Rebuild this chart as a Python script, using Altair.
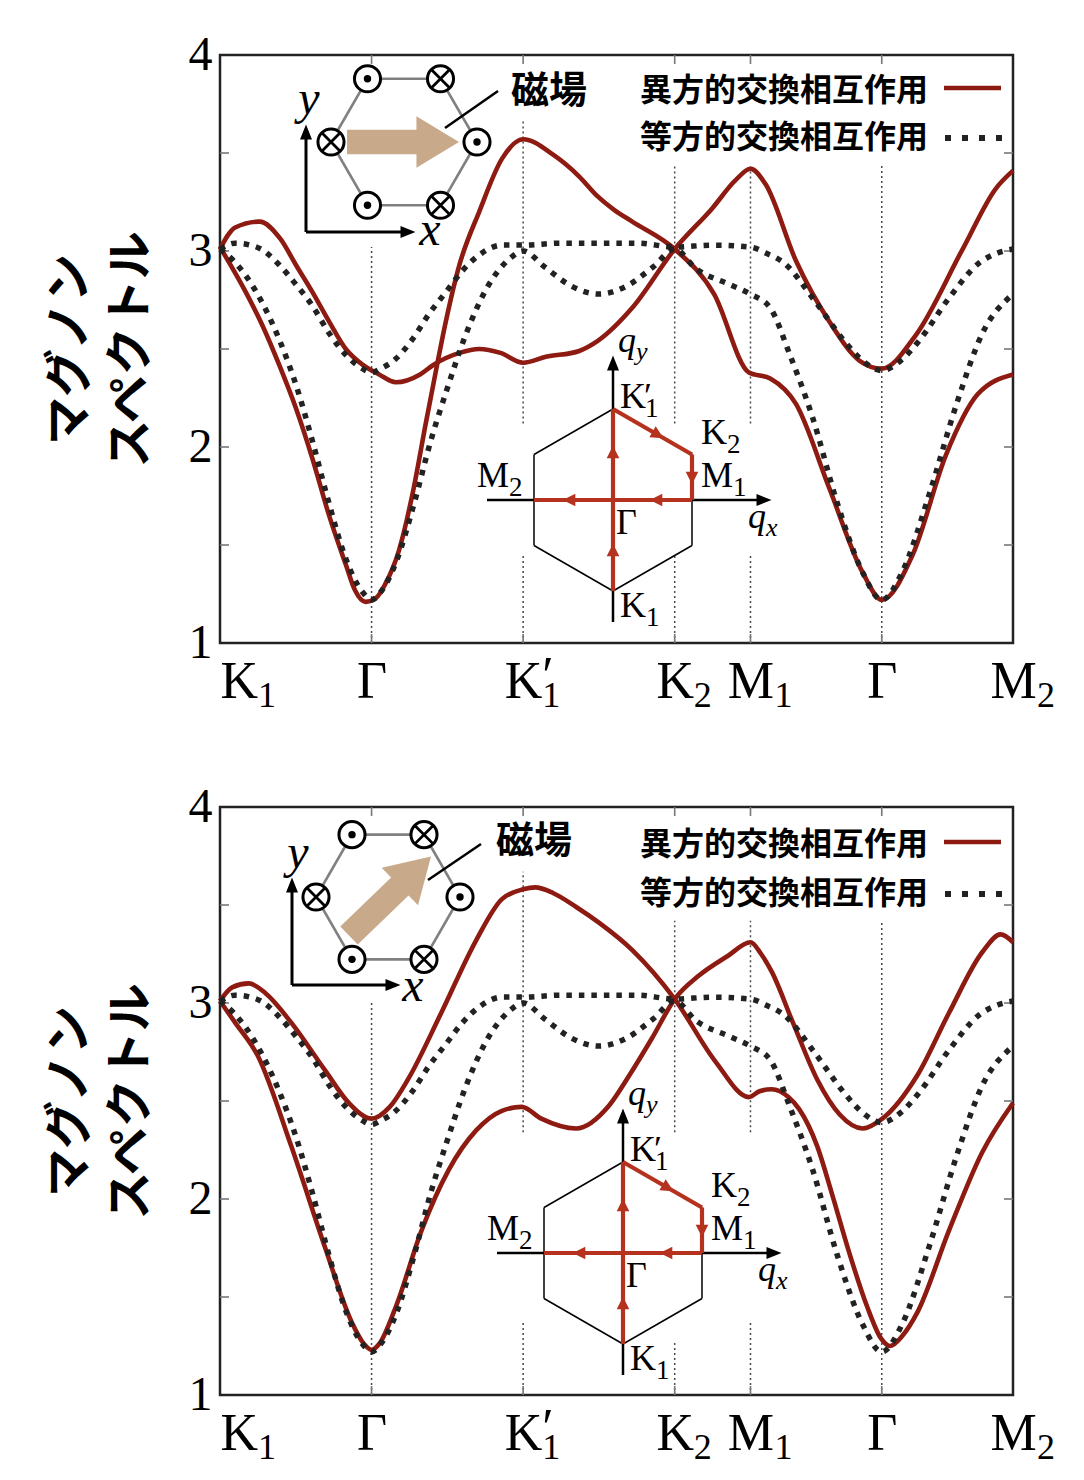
import altair as alt
import pandas as pd
import math

# ---------------- data ----------------
XMAX = 5.232
W, H = 793, 588
SX = W / XMAX
SY = H / 3.0

SYM_X = [0.0, 1.0, 2.0, 3.0, 3.5, 4.366, 5.232]
SYM_MAIN = ["K", "Γ", "K", "K", "M", "Γ", "M"]
SYM_SUB = ["1", "", "1", "2", "1", "", "2"]
SYM_PRIME = ["", "", "′", "", "", "", ""]
Y_TICKS = [1, 2, 3, 4]
Y_MINOR = [1.5, 2.0, 2.5, 3.0, 3.5]

# isotropic exchange (dotted) - same in both panels
ISO1_X = [0.0, 0.1, 0.2, 0.27, 0.39, 0.5, 0.61, 0.72, 0.83, 0.94, 1.0, 1.06, 1.16, 1.27, 1.38, 1.49, 1.6, 1.71,
          1.86, 2.0, 2.25, 2.5, 2.75, 3.0, 3.25, 3.5, 3.6, 3.72, 3.92, 4.12, 4.24, 4.366, 4.49, 4.61, 4.81, 5.01,
          5.13, 5.232]
ISO1_Y = [3.01, 3.04, 3.03, 3.01, 2.93, 2.83, 2.72, 2.58, 2.47, 2.40, 2.38, 2.40, 2.45, 2.55, 2.68, 2.79, 2.90, 2.98,
          3.03, 3.03, 3.04, 3.04, 3.04, 3.02, 3.03, 3.02, 2.99, 2.94, 2.75, 2.54, 2.44, 2.39, 2.44, 2.54, 2.76, 2.94,
          2.99, 3.01]
ISO2_X = [0.0, 0.09, 0.24, 0.39, 0.5, 0.61, 0.72, 0.83, 0.94, 1.0, 1.06, 1.17, 1.28, 1.39, 1.5, 1.61, 1.76, 1.91,
          2.0, 2.14, 2.32, 2.5, 2.68, 2.86, 3.0, 3.14, 3.36, 3.5, 3.63, 3.76, 3.91, 4.07, 4.24, 4.366, 4.5, 4.68,
          4.86, 5.03, 5.232]
ISO2_Y = [3.01, 2.95, 2.79, 2.55, 2.32, 2.03, 1.71, 1.43, 1.26, 1.22, 1.26, 1.43, 1.71, 2.03, 2.30, 2.55, 2.81, 2.96,
          3.0, 2.92, 2.82, 2.78, 2.82, 2.92, 3.01, 2.91, 2.83, 2.78, 2.71, 2.47, 2.15, 1.72, 1.36, 1.22, 1.36, 1.76,
          2.22, 2.58, 2.78]

# anisotropic exchange (solid), field along x (top panel)
TOP_A_X = [0.0, 0.1, 0.26, 0.4, 0.5, 0.61, 0.72, 0.83, 0.94, 1.05, 1.16, 1.32, 1.41, 1.58, 1.71, 1.85, 2.0, 2.15,
           2.37, 2.49, 2.72, 3.0, 3.25, 3.4, 3.5, 3.6, 3.8, 4.02, 4.22, 4.366, 4.59, 4.9, 5.12, 5.232]
TOP_A_Y = [3.01, 3.12, 3.15, 3.06, 2.93, 2.79, 2.64, 2.50, 2.42, 2.37, 2.33, 2.37, 2.42, 2.48, 2.50, 2.48, 2.43, 2.46,
           2.49, 2.54, 2.71, 3.01, 3.22, 3.36, 3.42, 3.34, 2.95, 2.64, 2.44, 2.40, 2.57, 3.01, 3.32, 3.41]
TOP_B_X = [0.0, 0.17, 0.28, 0.39, 0.5, 0.61, 0.72, 0.83, 0.89, 0.96, 1.03, 1.09, 1.18, 1.27, 1.36, 1.41, 1.49, 1.58,
           1.71, 1.86, 2.0, 2.2, 2.37, 2.49, 2.6, 2.72, 3.0, 3.26, 3.49, 3.63, 3.8, 4.02, 4.24, 4.366, 4.57, 4.79,
           5.0, 5.232]
TOP_B_Y = [3.02, 2.79, 2.62, 2.42, 2.20, 1.94, 1.65, 1.40, 1.27, 1.21, 1.23, 1.30, 1.47, 1.76, 2.13, 2.33, 2.64, 2.93,
           3.20, 3.47, 3.57, 3.49, 3.38, 3.28, 3.21, 3.15, 3.01, 2.78, 2.38, 2.35, 2.22, 1.79, 1.36, 1.22, 1.45, 1.96,
           2.27, 2.37]

# anisotropic exchange (solid), field along the diagonal (bottom panel)
BOT_P_X = [0.0, 0.08, 0.19, 0.3, 0.47, 0.69, 0.85, 1.0, 1.12, 1.24, 1.46, 1.69, 1.86, 2.0, 2.08, 2.2, 2.35, 2.5,
           2.72, 3.0, 3.27, 3.49, 3.56, 3.64, 3.75, 3.82, 3.94, 4.04, 4.15, 4.27, 4.36, 4.42, 4.5, 4.6, 4.81, 5.03,
           5.232]
BOT_P_Y = [3.01, 3.08, 3.10, 3.05, 2.90, 2.66, 2.49, 2.41, 2.47, 2.61, 2.95, 3.32, 3.53, 3.58, 3.59, 3.56, 3.49, 3.41,
           3.27, 3.02, 2.70, 2.52, 2.55, 2.56, 2.52, 2.46, 2.27, 2.02, 1.73, 1.45, 1.29, 1.25, 1.30, 1.42, 1.84, 2.24,
           2.49]
BOT_Q_X = [0.0, 0.1, 0.25, 0.47, 0.69, 0.87, 0.95, 1.0, 1.05, 1.16, 1.33, 1.51, 1.69, 1.86, 1.99, 2.12, 2.35, 2.57,
           2.7, 2.85, 3.0, 3.16, 3.35, 3.5, 3.57, 3.64, 3.78, 3.94, 4.09, 4.24, 4.37, 4.6, 4.81, 5.03, 5.15, 5.232]
BOT_Q_Y = [3.01, 2.90, 2.73, 2.27, 1.76, 1.37, 1.26, 1.23, 1.26, 1.45, 1.84, 2.15, 2.35, 2.45, 2.47, 2.41, 2.36, 2.48,
           2.63, 2.82, 3.02, 3.14, 3.24, 3.31, 3.25, 3.16, 2.90, 2.61, 2.43, 2.36, 2.41, 2.63, 2.95, 3.26, 3.35, 3.31]

# visible pieces of the dotted lines at high-symmetry points: (x, y_from, y_to)
TOP_VSEG = [(1.0, 1.0, 3.02), (2.0, 1.0, 1.45), (2.0, 2.12, 3.67), (3.0, 1.0, 1.45), (3.0, 2.12, 3.44),
            (3.5, 1.0, 1.45), (3.5, 2.12, 3.44), (4.366, 1.0, 3.44)]
BOT_VSEG = [(1.0, 1.0, 3.0), (2.0, 1.0, 1.37), (2.0, 2.34, 3.67), (3.0, 1.0, 1.27), (3.0, 2.34, 3.42),
            (3.5, 1.0, 1.37), (3.5, 2.34, 3.42), (4.366, 1.0, 3.42)]

LEGEND_TEXT = ["異方的交換相互作用", "等方的交換相互作用"]
FIELD_TEXT = "磁場"
Y_TITLE = ["マグノン", "スペクトル"]

RED_CURVE = "#8E1B12"
RED_PATH = "#B5321E"
TAN = "#C8AA8B"
SERIF = "Liberation Serif"
CJK = "Noto Sans CJK JP"

ARROW = "M-1,-0.22L0.24,-0.22L0.24,-0.46L1,0L0.24,0.46L0.24,0.22L-1,0.22Z"
TRI = "M1,0L-1,-0.8L-1,0.8Z"
TRI_RED = "M1,0L-1,-1L-1,1Z"
CROSS = "M-1,-1L1,1M-1,1L1,-1"


def X(px):
    return px / SX


def Y(py):
    return 4.0 - py / SY


# ---------------- scales / axes ----------------
xs = alt.Scale(domain=[0, XMAX], nice=False, zero=False)
ys = alt.Scale(domain=[1, 4], nice=False, zero=False)

expr = "'%s'" % SYM_MAIN[-1]
for i in reversed(range(len(SYM_X) - 1)):
    mid = (SYM_X[i] + SYM_X[i + 1]) / 2
    expr = "datum.value < %g ? '%s' : (%s)" % (mid, SYM_MAIN[i], expr)

xaxis = alt.Axis(values=SYM_X, labelExpr=expr, labelFont=SERIF, labelFontSize=52, labelColor="black",
                 labelBaseline="alphabetic", labelPadding=54, labelFlush=False, labelOverlap=False,
                 labelBound=False,
                 labelAlign={"condition": {"test": "datum.value < 0.5", "value": "left"}, "value": "center"},
                 ticks=False, domain=False, grid=False, title=None)
yaxis = alt.Axis(values=Y_TICKS, format="d", labelFont=SERIF, labelFontSize=48, labelColor="black",
                 labelPadding=8, ticks=False, domain=False, grid=False, title=Y_TITLE,
                 titleFont=CJK, titleFontWeight="bold", titleFontSize=48, titleColor="black",
                 titleLineHeight=61, titlePadding=33)


def xe(f="x"):
    return alt.X(f + ":Q", scale=xs, axis=xaxis)


def ye(f="y"):
    return alt.Y(f + ":Q", scale=ys, axis=yaxis)


def pt_df(rows, cx, cy, cols=()):
    recs = []
    for r in rows:
        d = {"x": X(cx + r[0]), "y": Y(cy + r[1])}
        for k, v in zip(cols, r[2:]):
            d[k] = v
        recs.append(d)
    return pd.DataFrame(recs)


def seg_df(rows, cx, cy):
    return pd.DataFrame([{"x": X(cx + a), "y": Y(cy + b), "x2": X(cx + c), "y2": Y(cy + d)}
                         for a, b, c, d in rows])


def seg_layer(rows, cx, cy, color, width, dash=None):
    kw = dict(color=color, strokeWidth=width)
    if dash:
        kw["strokeDash"] = dash
    return alt.Chart(seg_df(rows, cx, cy)).mark_rule(**kw).encode(
        x=xe(), y=ye(), x2=alt.X2("x2:Q"), y2=alt.Y2("y2:Q"))


def text_layer(rows, cx, cy, size, font=SERIF, style="normal", weight="normal", align="left",
               baseline="alphabetic", color="black"):
    df = pt_df(rows, cx, cy, cols=("t",))
    return alt.Chart(df).mark_text(font=font, fontSize=size, fontStyle=style, fontWeight=weight,
                                   align=align, baseline=baseline, color=color).encode(
        x=xe(), y=ye(), text="t:N")


def sym_layer(rows, cx, cy, shape, size, fill=None, stroke=None, sw=0, angle_field=False, angle=0):
    cols = ("ang",) if angle_field else ()
    df = pt_df(rows, cx, cy, cols=cols)
    kw = dict(shape=shape, size=size, opacity=1)
    if fill:
        kw["filled"] = True
        kw["fill"] = fill
        kw["fillOpacity"] = 1
    else:
        kw["filled"] = False
        kw["fillOpacity"] = 0
    if stroke:
        kw["stroke"] = stroke
        kw["strokeWidth"] = sw
    else:
        kw["strokeWidth"] = 0
    if not angle_field and angle:
        kw["angle"] = angle
    enc = dict(x=xe(), y=ye())
    if angle_field:
        enc["angle"] = alt.Angle("ang:Q", scale=None)
    return alt.Chart(df).mark_point(**kw).encode(**enc)


def spin_inset(s):
    cx, cy = s["c"]
    r = s["r"]
    verts = []
    for k in range(6):
        th = math.radians(60 * k)
        verts.append((r * math.cos(th), -r * math.sin(th)))
    layers = []
    edges = [(verts[k][0], verts[k][1], verts[(k + 1) % 6][0], verts[(k + 1) % 6][1]) for k in range(6)]
    layers.append(seg_layer(edges, cx, cy, "#808080", 2.6))
    ax, ay = s["arrow"]
    layers.append(sym_layer([(ax, ay)], cx, cy, ARROW, s["alen"] ** 2, fill=TAN, angle=s["aang"]))
    layers.append(sym_layer(verts, cx, cy, "circle", 680, fill="white", stroke="black", sw=3))
    dots = [verts[k] for k in (0, 2, 4)]
    crosses = [verts[k] for k in (1, 3, 5)]
    layers.append(sym_layer(dots, cx, cy, "circle", 55, fill="black"))
    layers.append(sym_layer(crosses, cx, cy, CROSS, 340, stroke="black", sw=2.8))
    # coordinate axes
    (bx, by), vt, ht = s["corner"], s["vtip"], s["htip"]
    layers.append(seg_layer([(bx, by, bx, vt + 12), (bx, by, ht - 12, by)], cx, cy, "black", 3))
    layers.append(sym_layer([(bx, vt + 7, 270), (ht - 7, by, 0)], cx, cy, TRI, 225, fill="black",
                            angle_field=True))
    layers.append(text_layer([(s["ylab"][0], s["ylab"][1], "y")], cx, cy, 48, style="italic",
                             align="center", baseline="middle"))
    layers.append(text_layer([(s["xlab"][0], s["xlab"][1], "x")], cx, cy, 48, style="italic",
                             align="center", baseline="middle"))
    layers.append(text_layer([(s["field"][0], s["field"][1], FIELD_TEXT)], cx, cy, 38, font=CJK,
                             weight="bold", align="center", baseline="middle"))
    (l1, l2) = s["leader"]
    layers.append(seg_layer([(l1[0], l1[1], l2[0], l2[1])], cx, cy, "black", 2.5))
    return layers


def bz_inset(cx, cy):
    R, hw = 91.0, 79.0
    layers = []
    # q axes
    layers.append(seg_layer([(-126, 0, 148, 0), (0, 122, 0, -133)], cx, cy, "black", 2.5))
    layers.append(sym_layer([(151, 0, 0), (0, -137, 270)], cx, cy, TRI, 225, fill="black", angle_field=True))
    # hexagon
    hv = [(0, -R), (hw, -R / 2), (hw, R / 2), (0, R), (-hw, R / 2), (-hw, -R / 2)]
    edges = [(hv[k][0], hv[k][1], hv[(k + 1) % 6][0], hv[(k + 1) % 6][1]) for k in range(6)]
    layers.append(seg_layer(edges, cx, cy, "black", 1.5))
    # path K1 -> G -> K1' -> K2 -> M1 -> G -> M2
    path = [(0, R, 0, 0), (0, 0, 0, -R), (0, -R, hw, -R / 2), (hw, -R / 2, hw, 0), (hw, 0, 0, 0), (0, 0, -hw, 0)]
    layers.append(seg_layer(path, cx, cy, RED_PATH, 4.2))
    heads = [(0, 50, 270), (0, -48, 270), (45, -65, 30), (hw, -22, 90), (43, 0, 180), (-44, 0, 180)]
    layers.append(sym_layer(heads, cx, cy, TRI_RED, 160, fill=RED_PATH, angle_field=True))
    # labels
    layers.append(text_layer([(7, -92, "K"), (88, -56, "K"), (88, -13, "M"), (-136, -13, "M"),
                              (3, 34, "Γ"), (7, 117, "K"), (31, -92, "′")], cx, cy, 36))
    layers.append(text_layer([(32, -83, "1"), (114, -47, "2"), (120, -4, "1"), (-104, -4, "2"),
                              (33, 126, "1")], cx, cy, 27))
    layers.append(text_layer([(5, -148, "q"), (135, 28, "q")], cx, cy, 36, style="italic"))
    layers.append(text_layer([(23, -140, "y"), (153, 36, "x")], cx, cy, 26, style="italic"))
    return layers


def panel(a_x, a_y, b_x, b_y, vseg, spin, bzc, leg_y):
    layers = []
    # dotted lines at high-symmetry points
    vdf = pd.DataFrame([{"x": x, "y": y1, "y2": y2} for x, y1, y2 in vseg])
    layers.append(alt.Chart(vdf).mark_rule(color="#4a4a4a", strokeWidth=1.5, strokeDash=[2, 3]).encode(
        x=xe(), y=ye(), y2=alt.Y2("y2:Q")))
    # inward ticks
    tdf = pd.DataFrame({"v": Y_MINOR})
    layers.append(alt.Chart(tdf).mark_rule(color="#777777", strokeWidth=1.6).encode(
        y=ye("v"), x=alt.value(0), x2=alt.value(9)))
    layers.append(alt.Chart(tdf).mark_rule(color="#777777", strokeWidth=1.6).encode(
        y=ye("v"), x=alt.value(W - 9), x2=alt.value(W)))
    xdf = pd.DataFrame({"v": SYM_X[1:-1]})
    layers.append(alt.Chart(xdf).mark_rule(color="#777777", strokeWidth=1.6).encode(
        x=xe("v"), y=alt.value(0), y2=alt.value(9)))
    layers.append(alt.Chart(xdf).mark_rule(color="#777777", strokeWidth=1.6).encode(
        x=xe("v"), y=alt.value(H - 9), y2=alt.value(H)))
    # solid (anisotropic)
    sdf = pd.concat([pd.DataFrame({"x": a_x, "y": a_y, "s": "a"}),
                     pd.DataFrame({"x": b_x, "y": b_y, "s": "b"})])
    layers.append(alt.Chart(sdf).mark_line(interpolate="monotone", color=RED_CURVE, strokeWidth=4.6).encode(
        x=xe(), y=ye(), detail="s:N"))
    # dotted (isotropic)
    ddf = pd.concat([pd.DataFrame({"x": ISO1_X, "y": ISO1_Y, "s": "a"}),
                     pd.DataFrame({"x": ISO2_X, "y": ISO2_Y, "s": "b"})])
    layers.append(alt.Chart(ddf).mark_line(interpolate="monotone", color="#222222", strokeWidth=5.5,
                                           strokeDash=[5.5, 7], strokeCap="butt").encode(
        x=xe(), y=ye(), detail="s:N"))
    # insets
    layers += spin_inset(spin)
    layers += bz_inset(*bzc)
    # legend
    layers.append(text_layer([(708, leg_y[0], LEGEND_TEXT[0]), (708, leg_y[1], LEGEND_TEXT[1])], 0, 0, 32,
                             font=CJK, weight="bold", align="right", baseline="middle"))
    layers.append(seg_layer([(724, leg_y[0] - 3, 781, leg_y[0] - 3)], 0, 0, RED_CURVE, 4.6))
    layers.append(seg_layer([(725, leg_y[1], 785, leg_y[1])], 0, 0, "#222222", 6, dash=[6, 11]))
    # x-axis subscripts / prime
    sub_rows, prime_rows = [], []
    for i, (xv, m, sb, pr) in enumerate(zip(SYM_X, SYM_MAIN, SYM_SUB, SYM_PRIME)):
        half = 19 if m == "K" else 24
        off = 38 if i == 0 else half
        if sb:
            sub_rows.append({"x": xv + off / SX, "t": sb})
        if pr:
            prime_rows.append({"x": xv + off / SX, "t": pr})
    layers.append(alt.Chart(pd.DataFrame(sub_rows)).mark_text(
        font=SERIF, fontSize=36, align="left", baseline="alphabetic", color="black").encode(
        x=xe(), y=alt.value(H + 64), text="t:N"))
    layers.append(alt.Chart(pd.DataFrame(prime_rows)).mark_text(
        font=SERIF, fontSize=52, align="left", baseline="alphabetic", color="black").encode(
        x=xe(), y=alt.value(H + 50), text="t:N"))
    return alt.layer(*layers).properties(width=W, height=H)


TOP_SPIN = dict(c=(184, 87), r=73, arrow=(-1, 0), aang=0, alen=112, corner=(-98, 90), vtip=-17, htip=11,
                ylab=(-95, -42), xlab=(26, 89), field=(145, -50), leader=((41, -14), (94, -51)))
BOT_SPIN = dict(c=(168, 90), r=72, arrow=(2, -1), aang=316, alen=114, corner=(-96, 88), vtip=-19, htip=12,
                ylab=(-90, -43), xlab=(25, 90), field=(146, -55), leader=((40, -17), (93, -53)))

top = panel(TOP_A_X, TOP_A_Y, TOP_B_X, TOP_B_Y, TOP_VSEG, TOP_SPIN, (393, 445), (36, 83))
bottom = panel(BOT_P_X, BOT_P_Y, BOT_Q_X, BOT_Q_Y, BOT_VSEG, BOT_SPIN, (403, 446), (38, 87))

chart = alt.vconcat(top, bottom, spacing=65).properties(
    padding={"left": 36, "top": 21, "right": 5, "bottom": 5}, background="white"
).configure_view(stroke="#222222", strokeWidth=2.5)

chart.save("out.html", embed_options={"renderer": "svg", "actions": False})
